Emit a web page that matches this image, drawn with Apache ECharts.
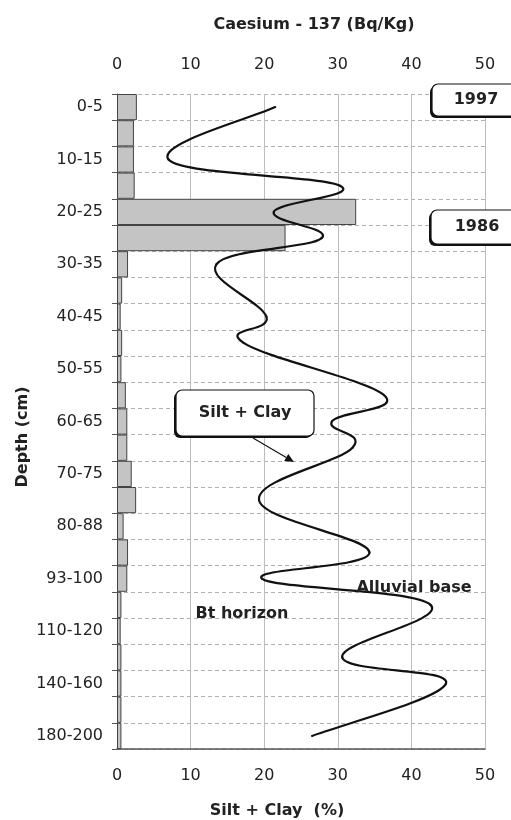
<!DOCTYPE html>
<html>
<head>
<meta charset="utf-8">
<script src="https://cdn.jsdelivr.net/npm/echarts@6/dist/echarts.min.js"></script>
<style>
  html, body { margin: 0; padding: 0; background: #fff; }
  #chart { width: 511px; height: 820px; }
</style>
</head>
<body>
<div id="chart"></div>
<script>
// Depth intervals (cm), top to bottom
const depthCats = ['0-5', '5-10', '10-15', '15-20', '20-25', '25-30', '30-35', '35-40',
  '40-45', '45-50', '50-55', '55-60', '60-65', '65-70', '70-75', '75-80', '80-88',
  '88-93', '93-100', '100-110', '110-120', '120-140', '140-160', '160-180', '180-200'];

// Caesium-137 activity (Bq/Kg) per interval
const caesium = [2.7, 2.3, 2.3, 2.4, 32.5, 22.9, 1.5, 0.7, 0.5, 0.7, 0.6, 1.2, 1.4,
  1.4, 2.0, 2.6, 0.9, 1.5, 1.4, 0.6, 0.5, 0.6, 0.6, 0.6, 0.6];

// Silt + clay content (%) at the sampled intervals (null = not sampled)
const siltClay = [21.5, null, 7.0, 30.3, 21.3, 27.8, 13.5, null, 20.3, 17.2, null, 36.3, 29.2,
  32.0, null, 19.3, null, 34.3, 19.7, 42.6, null, 30.6, 44.7, null, 26.5];

const valueTicks = [0, 10, 20, 30, 40, 50];

const FONT = '"DejaVu Sans", sans-serif';
const TXT = '#222';

// sampled points as [value, category index]
const siltPoints = [];
siltClay.forEach((v, i) => { if (v != null) siltPoints.push([v, i]); });

// Spreadsheet-style smoothed curve: cubic Bezier per segment,
// control points offset along the neighbour chord.
const TENSION = 0.2;
function renderSilt(params, api) {
  const k = params.dataIndex;
  const n = siltPoints.length;
  if (k >= n - 1) return null;
  const P = i => api.coord(siltPoints[Math.max(0, Math.min(n - 1, i))]);
  const p0 = P(k - 1), p1 = P(k), p2 = P(k + 1), p3 = P(k + 2);
  return {
    type: 'bezierCurve',
    shape: {
      x1: p1[0], y1: p1[1], x2: p2[0], y2: p2[1],
      cpx1: p1[0] + (p2[0] - p0[0]) * TENSION, cpy1: p1[1] + (p2[1] - p0[1]) * TENSION,
      cpx2: p2[0] - (p3[0] - p1[0]) * TENSION, cpy2: p2[1] - (p3[1] - p1[1]) * TENSION
    },
    style: { stroke: '#111', lineWidth: 2.2, fill: null, lineCap: 'round' }
  };
}

const chart = echarts.init(document.getElementById('chart'), null, { renderer: 'canvas' });

function boxWithShadow(x, y, w, h, label, tx, ty) {
  return [
    { type: 'rect', shape: { x: x - 2, y: y + 2, width: w, height: h, r: 6 },
      style: { fill: '#111' }, z: 100 },
    { type: 'rect', shape: { x: x, y: y, width: w, height: h, r: 6 },
      style: { fill: '#fff', stroke: '#111', lineWidth: 1.2 }, z: 101 },
    { type: 'text', x: tx, y: ty, z: 102,
      style: { text: label, font: 'bold 16px ' + FONT, fill: TXT, align: 'center', verticalAlign: 'middle' } }
  ];
}

function arrow(x1, y1, x2, y2) {
  const dx = x2 - x1, dy = y2 - y1, len = Math.sqrt(dx * dx + dy * dy);
  const ux = dx / len, uy = dy / len, px = -uy, py = ux;
  const bx = x2 - ux * 9, by = y2 - uy * 9;
  return [
    { type: 'line', shape: { x1: x1, y1: y1, x2: bx, y2: by }, style: { stroke: '#111', lineWidth: 1.2 }, z: 100 },
    { type: 'polygon', shape: { points: [[x2, y2], [bx + px * 4, by + py * 4], [bx - px * 4, by - py * 4]] },
      style: { fill: '#111' }, z: 100 }
  ];
}

const option = {
  backgroundColor: '#fff',
  animation: false,
  grid: { left: 117, right: 26, top: 94, bottom: 71, containLabel: false },
  xAxis: [
    { // Silt + Clay (%)
      type: 'value', position: 'bottom', min: 0, max: 50, interval: 10,
      axisLine: { show: true, lineStyle: { color: '#555', width: 1.5 } },
      axisTick: { show: false },
      axisLabel: { color: TXT, fontFamily: FONT, fontSize: 16, margin: 19,
        formatter: v => valueTicks.includes(v) ? String(v) : '' },
      splitLine: { show: true, lineStyle: { color: '#bdbdbd', width: 1 } }
    },
    { // Caesium-137 (Bq/Kg)
      type: 'value', position: 'top', min: 0, max: 50, interval: 10,
      axisLine: { show: false },
      axisTick: { show: false },
      axisLabel: { color: TXT, fontFamily: FONT, fontSize: 16, margin: 21 },
      splitLine: { show: false }
    }
  ],
  yAxis: {
    type: 'category', data: depthCats, inverse: true, boundaryGap: true,
    axisLine: { show: true, lineStyle: { color: '#555', width: 1 } },
    axisTick: { show: true, interval: 0, length: 5, lineStyle: { color: '#555' } },
    axisLabel: { interval: 1, color: TXT, fontFamily: FONT, fontSize: 16, margin: 14 },
    splitLine: { show: true, interval: 0, lineStyle: { color: '#b0b0b0', type: [4, 3], width: 1 } }
  },
  series: [
    {
      name: 'Caesium - 137', type: 'bar', xAxisIndex: 1, yAxisIndex: 0,
      data: caesium, barCategoryGap: '0%',
      itemStyle: { color: '#c4c4c4', borderColor: '#444', borderWidth: 1 },
      z: 2
    },
    {
      name: 'Silt + Clay', type: 'custom', coordinateSystem: 'cartesian2d',
      xAxisIndex: 0, yAxisIndex: 0,
      data: siltPoints, encode: { x: 0, y: 1 },
      renderItem: renderSilt, clip: false,
      z: 3
    }
  ],
  graphic: [
    { type: 'text', x: 314, y: 25,
      style: { text: 'Caesium - 137 (Bq/Kg)', font: 'bold 16px ' + FONT, fill: TXT, align: 'center', verticalAlign: 'middle' } },
    { type: 'text', x: 277, y: 811,
      style: { text: 'Silt + Clay  (%)', font: 'bold 16px ' + FONT, fill: TXT, align: 'center', verticalAlign: 'middle' } },
    { type: 'text', x: 23, y: 437, rotation: Math.PI / 2,
      style: { text: 'Depth (cm)', font: 'bold 16px ' + FONT, fill: TXT, align: 'center', verticalAlign: 'middle' } },
    { type: 'text', x: 242, y: 614, z: 50,
      style: { text: 'Bt horizon', font: 'bold 16px ' + FONT, fill: TXT, align: 'center', verticalAlign: 'middle' } },
    { type: 'text', x: 414, y: 588, z: 50,
      style: { text: 'Alluvial base', font: 'bold 16px ' + FONT, fill: TXT, align: 'center', verticalAlign: 'middle' } },
    ...boxWithShadow(432, 84, 90, 32, '1997', 476, 100),
    ...boxWithShadow(431, 210, 90, 34, '1986', 477, 227),
    ...boxWithShadow(176, 390, 138, 46, 'Silt + Clay', 245, 413),
    ...arrow(253, 438, 294, 462)
  ]
};

chart.setOption(option);
</script>
</body>
</html>
